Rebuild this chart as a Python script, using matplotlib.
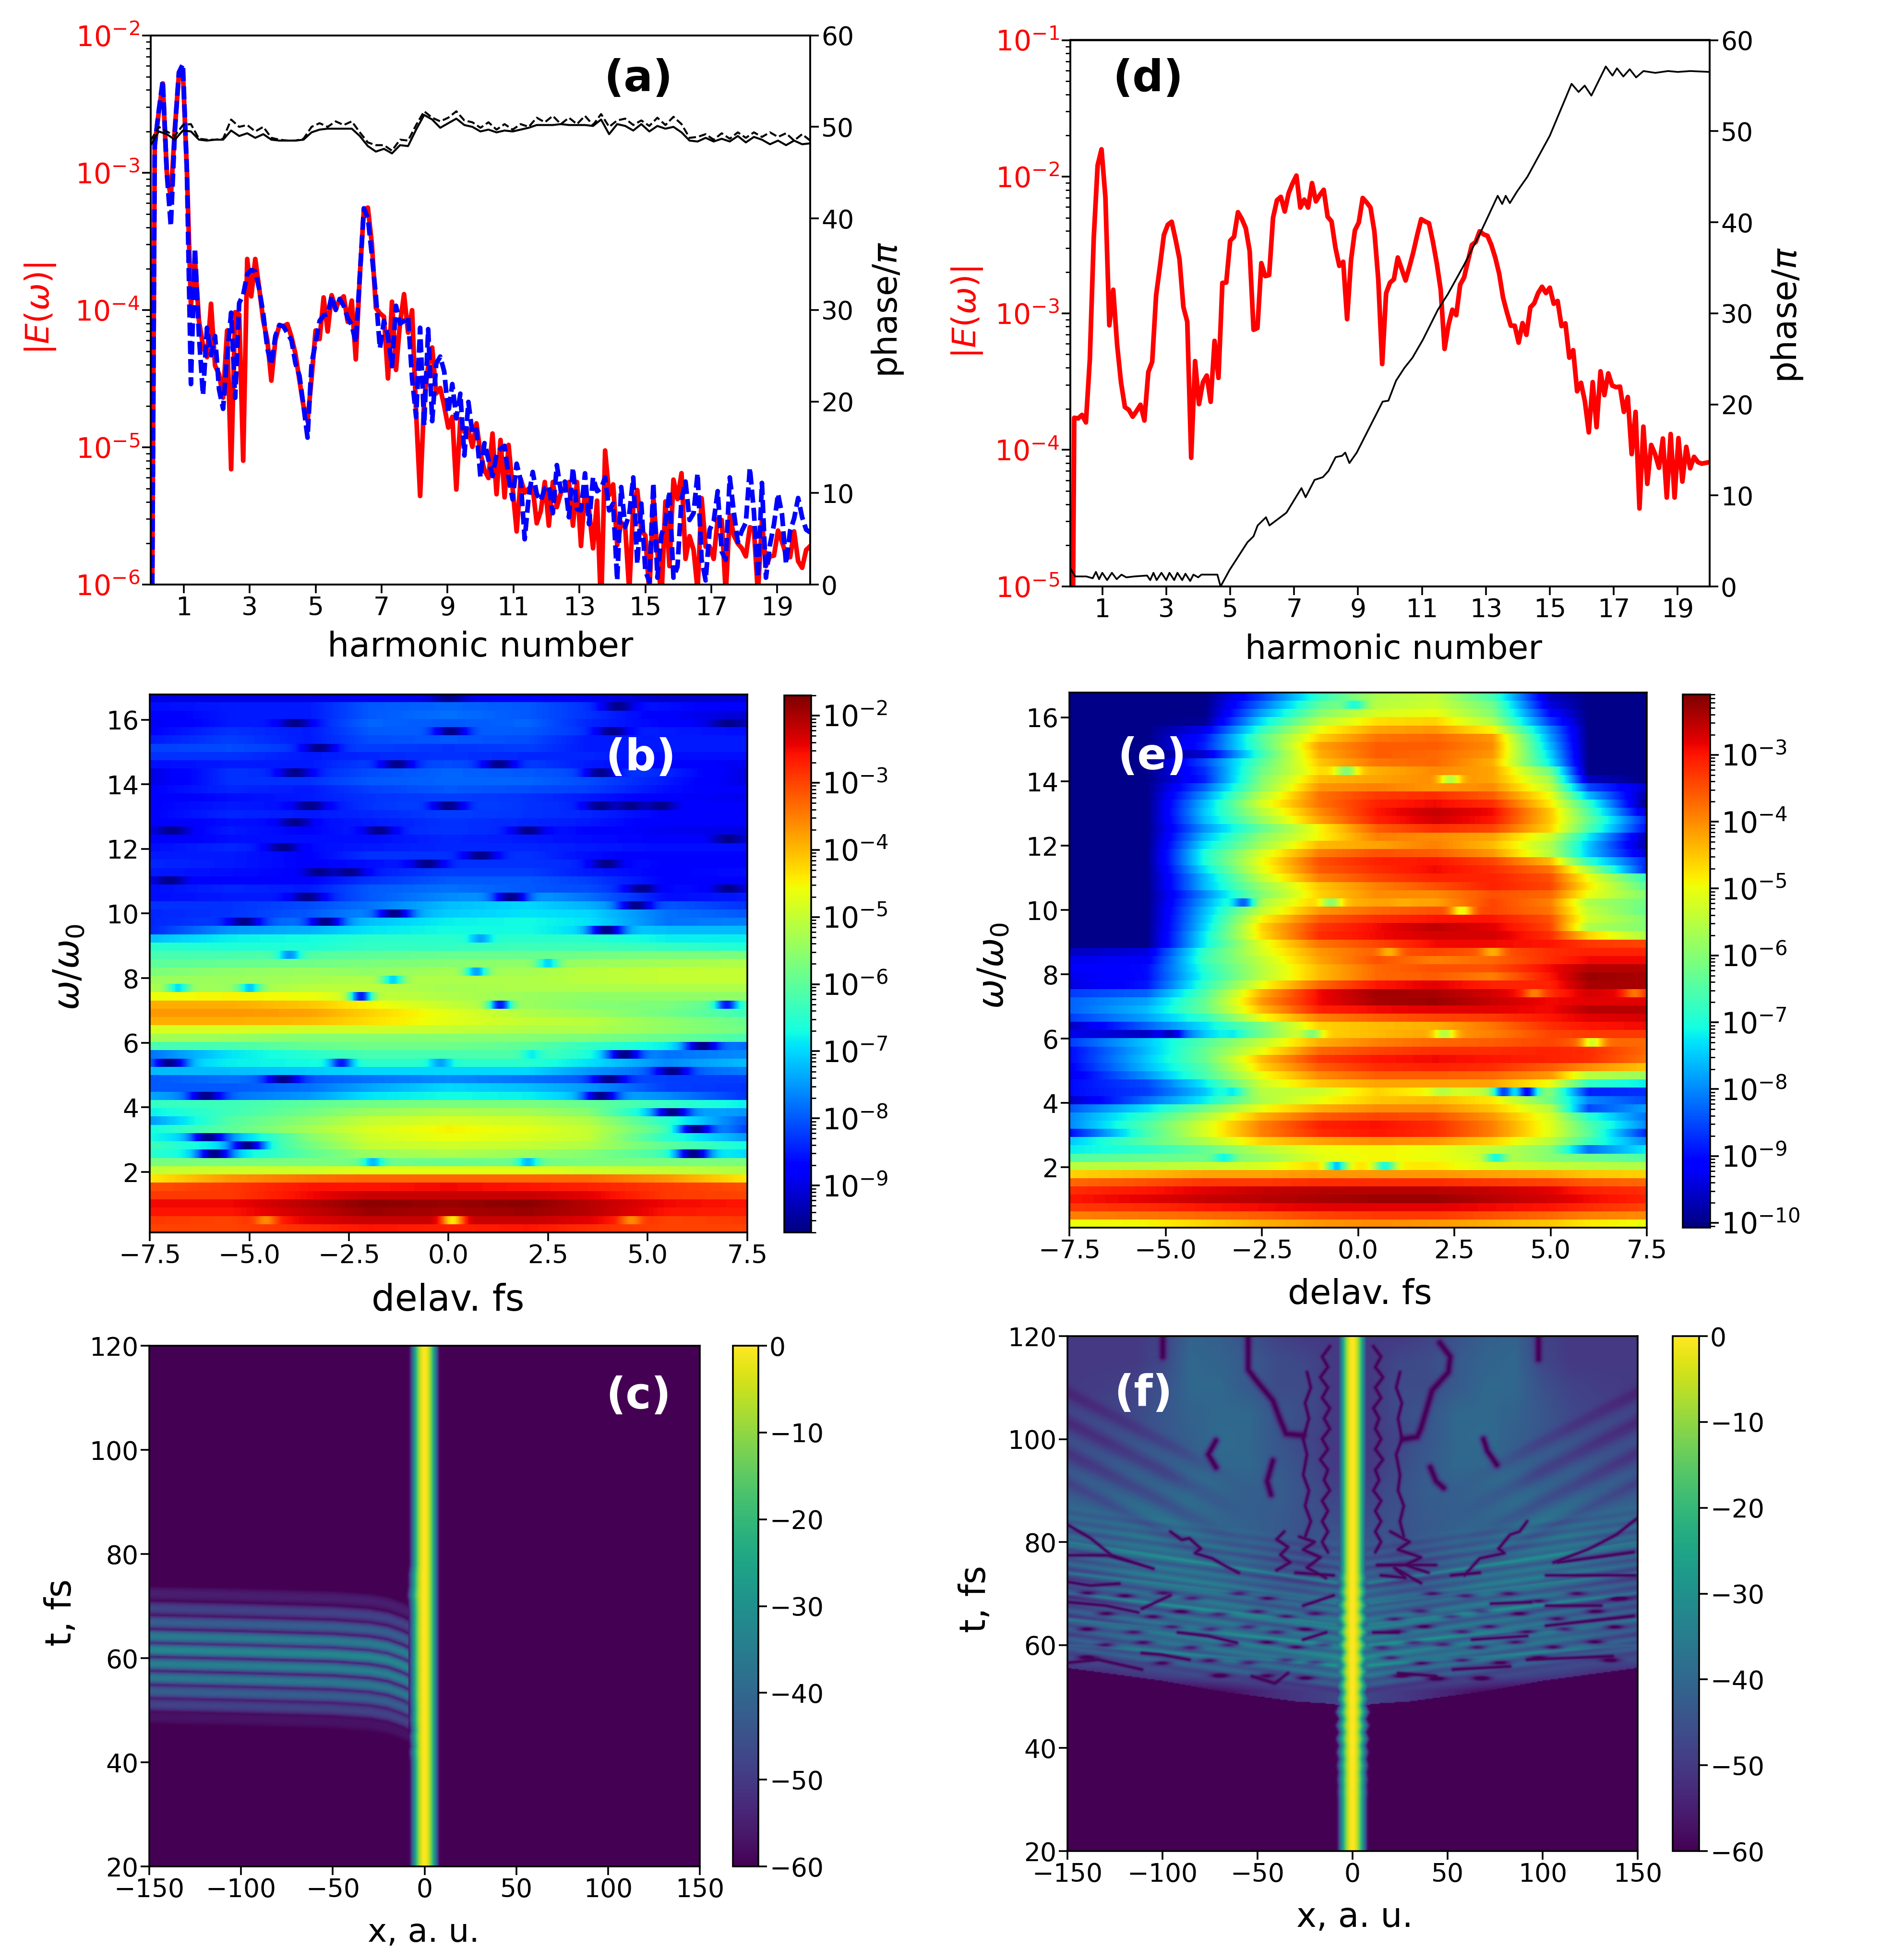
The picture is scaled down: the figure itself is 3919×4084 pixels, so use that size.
import numpy as np
import matplotlib
matplotlib.use('Agg')
import matplotlib.pyplot as plt
from matplotlib.colors import LogNorm

W, H = 3919, 4084

# panel (a): log10 |E| on a 0.122 harmonic grid
a_red = [-8,-2.8,-2.56,-2.35,-3.0,-3.18,-2.68,-2.29,-2.26,-2.99,
 -3.971,-3.629,-4.080,-4.258,-4.344,-3.955,-4.406,-4.468,-4.639,-4.150,-5.160,-4.017,-4.033,-5.098,-3.629,-3.901,-3.629,-3.846,-4.080,-4.220,
 -4.515,-4.220,-4.111,-4.119,-4.103,-4.196,-4.321,-4.515,-4.702,-4.810,-4.499,-4.150,-4.212,-3.909,-4.157,-3.893,-3.986,-3.932,-3.901,-4.087,
 -3.932,-4.360,-3.753,-3.271,-3.255,-3.520,-3.986,-4.025,-4.049,-4.499,-3.940,-4.437,-4.095,-3.885,-4.165,-4.002,-4.748,-5.355,-4.655,-4.406,
 -4.274,-4.608,-4.569,-4.702,-4.857,-4.779,-5.308,-4.795,-4.888,-4.873,-4.997,-4.826,-5.044,-5.168,
 -5.224,-4.900,-5.342,-4.947,-5.365,-4.983,-5.301,-5.613,-5.230,-5.330,-5.301,-5.295,-5.554,-5.465,-5.253,-5.571,-5.253,-5.436,-5.330,-5.295,
 -5.253,-5.571,-5.253,-5.719,-5.312,-5.454,-5.736,-5.389,-6.184,-5.024,-5.348,-5.271,-5.713,-5.548,-5.583,-6.05,-5.430,-5.312,-5.607,-5.642,
 -6.066,-5.359,-5.760,-6.113,-5.395,-5.866,-5.236,-5.377,-5.189,-5.813,-5.648,-5.748,-6.042,-5.371,-5.724,-5.724,-5.813,-5.524,-5.530,-6.066,
 -5.495,-5.642,-5.701,-5.736,-5.795,-5.583,-5.595,-6.066,-5.536,-5.866,-5.795,-5.789,-5.607,-5.689,-5.783,-5.801,-5.613,-5.830,-5.878,-5.748,-5.72]
a_blue = [-8,-2.8,-2.55,-2.33,-3.0,-3.39,-2.7,-2.27,-2.21,-2.99,
 -4.54,-3.55,-4.19,-4.62,-4.13,-4.33,-4.19,-4.58,-4.72,-4.33,-4.02,-4.64,-3.95,-3.89,-3.74,-3.71,-3.72,-3.85,-4.03,-4.28,
 -4.40,-4.19,-4.11,-4.12,-4.17,-4.22,-4.39,-4.48,-4.70,-4.93,-4.39,-4.24,-4.08,-4.04,-4.03,-3.90,-4.0,-3.92,-3.97,-4.06,
 -4.11,-4.24,-3.75,-3.26,-3.33,-3.6,-3.9,-4.28,-4.08,-4.19,-4.41,-3.97,-4.1,-4.08,-4.05,-4.5,-4.78,-4.13,-4.84,-4.14,
 -4.81,-4.39,-4.34,-4.45,-4.75,-4.54,-4.79,-4.61,-5.06,-4.67,-4.9,-4.87,-5.22,-4.97,
 -5.09,-5.21,-5.05,-5.01,-4.99,-5.22,-5.38,-5.12,-5.24,-5.67,-5.36,-5.18,-5.34,-5.39,-5.30,-5.28,-5.48,-5.13,-5.32,-5.25,
 -5.51,-5.15,-5.45,-5.46,-5.19,-5.56,-5.22,-5.32,-5.30,-5.22,-5.46,-5.41,-5.97,-5.29,-5.58,-5.49,-5.22,-5.85,-5.41,-5.90,
 -5.98,-5.26,-5.95,-5.64,-5.55,-5.32,-5.95,-5.87,-5.38,-5.25,-5.53,-5.48,-5.19,-5.82,-5.97,-5.60,-5.54,-5.32,-5.76,-5.82,
 -5.22,-5.47,-5.69,-5.61,-5.55,-5.15,-5.47,-5.95,-5.26,-5.95,-5.71,-5.56,-5.34,-5.49,-5.85,-5.61,-5.52,-5.37,-5.51,-5.60,-5.62]
a_phase = [48,49.5,49.2,48.6,49.6,49.5,48.6,48.5,48.6,48.6,49.6,49,49.3,48.8,49.2,48.6,48.5,48.5,48.5,48.6,49.4,49.7,49.8,49.8,49.8,49.8,49,47.9,47.3,47.6,47.1,48,47.9,49.7,51.3,50.8,49.9,50.4,50.9,50.2,50,49.5,49.7,49.4,49.6,49.5,49.7,49.9,50.2,50.2,50.2,50.3,50.2,50.2,50.2,50.1,50.8,49.2,50.3,50.1,49.6,50.3,49.5,50.1,49.8,50,49.4,48.5,48.4,48.8,48.4,48.7,48.4,49,48.3,48.9,48.6,48.1,48.5,48,48.5,48.1,48.2]
a_phase2 = [48.5,50,49.5,49,50.2,50.3,48.7,48.6,48.6,48.7,50.8,50,50.2,49.5,50,48.8,48.6,48.5,48.5,48.7,50,50.4,50,50.6,50.2,50.6,49.4,48.3,48,48,47.4,48.6,48.5,50.2,51.7,51,50.6,51,51.7,50.7,50.5,49.9,50.5,49.7,50.3,49.7,50.3,50,51,50.5,51.2,50.3,51,50.3,51.2,50.2,51.4,50,50.7,50.9,50.2,50.7,50.1,51,50.2,51.1,50.3,48.8,48.9,49.2,48.6,49.3,48.7,49.4,48.8,49.4,48.9,49.4,48.9,49.3,48.5,49.2,48.5]

# panel (d)
d_red = [-8,-3.765,-3.770,-3.744,-3.799,-3.339,-2.452,-1.917,-1.800,-2.151,-3.088,-2.828,-3.230,-3.506,-3.687,-3.707,-3.757,-3.715,-3.670,-3.785,-3.431,-3.355,-2.870,-2.653,-2.427,-2.352,-2.330,-2.460,-2.603,-2.954,-3.063,-4.058,-3.350,-3.665,-3.506,-3.456,-3.648,-3.202,-3.473,-2.778,-2.775,-2.469,-2.440,-2.260,-2.310,-2.377,-2.544,-3.121,-3.108,-2.633,-2.728,-2.720,-2.301,-2.173,-2.148,-2.255,-2.121,-2.050,-1.992,-2.226,-2.168,-2.226,-2.047,-2.181,-2.134,-2.096,-2.293,-2.327,-2.519,-2.653,-2.623,-3.043,-2.611,-2.393,-2.335,-2.156,-2.188,-2.226,-2.402,-2.753,-3.372,-2.854,
 -2.776,-2.751,-2.592,-2.676,-2.760,-2.659,-2.550,-2.425,-2.311,-2.328,-2.341,-2.475,-2.634,-2.826,-3.261,-3.086,-2.974,-3.014,-2.790,-2.739,-2.617,-2.500,-2.478,-2.400,-2.422,-2.433,-2.500,-2.592,-2.709,-2.885,-2.994,-3.091,-3.091,-3.215,-3.072,-3.158,-2.957,-2.927,-2.852,-2.806,-2.852,-2.813,-2.930,-2.910,-3.094,-3.074,-3.325,-3.270,-3.571,-3.509,-3.646,-3.872,-3.504,-3.834,-3.425,-3.599,-3.440,-3.529,-3.541,-3.537,-3.722,-3.613,-4.031,-3.722,-4.429,-3.830,-4.249,-3.964,-4.031,-4.131,-3.917,-4.349,-3.884,-4.349,-3.914,-4.232,-3.978,-4.135,-4.051,-4.090,-4.101,-4.095,-4.09]
d_phase_h = [0,.15,.5,.7,.8,.9,1,1.15,1.3,1.45,1.6,1.75,2,2.4,2.5,2.6,2.7,2.85,3,3.1,3.25,3.35,3.5,3.6,3.75,3.85,4,4.1,4.6,4.7,4.98,5.54,5.73,5.86,6.12,6.23,6.76,7.23,7.36,7.64,7.9,8.08,8.3,8.5,8.6,8.73,8.96,9.77,9.95,10.19,10.45,10.7,11.03,11.5,11.81,12.33,12.85,13.37,13.51,13.62,13.75,13.98,14.3,15,15.68,15.9,16.09,16.3,16.75,16.96,17.1,17.3,17.5,17.7,17.93,18.3,18.7,19,19.4,20]
d_phase = [2,1.1,1.1,.9,1.6,.8,1.5,.7,1.5,.8,1.3,1,1.1,1.2,.7,1.5,.7,1.5,.7,1.5,.7,1.5,.7,1.4,.6,1.3,1,1.3,1.3,0,1.8,4.85,5.5,6.7,7.6,6.7,8.1,10.8,9.8,11.7,12,12.7,14.2,14.35,14.7,13.55,14.7,20.3,20.4,22.6,24,25.1,27.1,30.4,32.1,35.4,39,42.9,42,42.9,42.1,43.4,45,49.5,55.2,54.3,55,53.9,57.1,56.1,56.9,56,56.8,55.9,56.6,56.4,56.6,56.5,56.6,56.5]

# panels (b), (e): log10 spectrum, rows from low to high omega
b_t = [-7.5,-5.5,-3.5,-2,0,2,3.5,5.5,7.5]
b_rows = [
[-3.0,-3.0,-2.8,-2.6,-2.7,-2.6,-2.8,-3.0,-3.0],[-2.9,-3.0,-2.4,-2.2,-2.2,-2.2,-2.4,-3.0,-2.9],[-2.6,-2.6,-2.2,-1.9,-2.0,-1.9,-2.1,-2.6,-2.7],
[-2.5,-2.5,-2.1,-1.8,-1.9,-1.8,-2.1,-2.5,-2.6],[-2.9,-2.9,-2.5,-2.2,-2.2,-2.2,-2.4,-2.9,-3],[-3.1,-2.9,-2.6,-2.6,-2.5,-2.6,-2.7,-2.9,-3.1],
[-4.4,-3.7,-3.4,-3.3,-3.3,-3.3,-3.3,-3.7,-4.4],[-5.0,-4.9,-4.9,-4.7,-4.7,-4.7,-4.9,-5,-5.2],[-5.7,-5.7,-5.7,-5.8,-5.9,-5.8,-5.7,-5.7,-5.7],
[-6.5,-7,-6,-5.4,-5.2,-5.4,-5.6,-6.3,-7],[-6.3,-7,-5.8,-5,-4.9,-5,-5.2,-6,-6.7],[-6.7,-7.4,-5.6,-4.9,-4.6,-4.8,-5,-6.5,-7.5],
[-6.7,-6,-5.3,-4.8,-4.5,-4.7,-5,-6.2,-8.2],[-7.5,-6.1,-5.5,-5,-4.8,-4.9,-5.2,-6.5,-8],[-6.8,-6.3,-5.8,-5.4,-5.2,-5.3,-5.6,-7.3,-7.5],
[-6.4,-6.3,-6,-5.8,-5.7,-5.7,-5.9,-6.4,-6.8],[-7.4,-7.8,-7.5,-6.9,-6.7,-6.8,-7.2,-7.6,-8.3],[-8,-8,-7.8,-7.4,-7,-7.2,-7.5,-8.2,-8.3],
[-8,-7.8,-8,-7.8,-7.6,-7.8,-8,-8.2,-8.2],[-7.2,-7.2,-7.1,-7,-7,-7,-7.5,-8,-7.7],[-7.3,-6.8,-6.7,-6.5,-6.5,-6.5,-6.9,-7.6,-7.2],
[-7.8,-6.9,-6.5,-6.2,-6.2,-6.1,-6.6,-7.8,-7.6],[-6.2,-6.2,-5.9,-5.8,-5.8,-6.0,-6.4,-6.8,-7.9],[-5.3,-5.4,-5.6,-5.6,-5.6,-5.6,-5.7,-5.9,-6.2],
[-4.8,-4.8,-4.9,-4.9,-5,-5.2,-5.2,-5.5,-5.8],[-3.9,-3.9,-4.0,-4.3,-4.7,-5,-5.1,-5.5,-5.9],[-3.7,-3.7,-3.8,-4.2,-4.7,-5.2,-5.4,-5.8,-6.3],
[-3.9,-3.9,-4.1,-4.5,-5,-5.4,-5.6,-5.7,-6.2],[-4.6,-4.5,-4.6,-5,-5.2,-5.4,-5.5,-5.5,-5.5],[-5.2,-5.4,-5.1,-5.1,-5.3,-5.2,-5.2,-5.2,-5.2],
[-5.4,-5.4,-5.3,-5.2,-5.2,-5.2,-5.1,-5,-5],[-5.7,-5.5,-5.4,-5.5,-5.3,-5.3,-5.1,-5,-5],[-6,-5.9,-5.8,-5.7,-5.6,-5.5,-5.4,-5.3,-5.2],
[-6.2,-6.2,-6.1,-6,-5.9,-5.9,-5.8,-5.7,-5.7],[-6.5,-6.6,-6.6,-6.4,-6.4,-6.3,-6.3,-6.4,-6.6],[-7.2,-6.8,-6.7,-6.5,-6.5,-6.5,-6.5,-6.8,-6.8],
[-8.4,-7.5,-7.3,-6.9,-6.7,-6.7,-7.0,-7.2,-7.2],[-8.4,-8.2,-7.7,-7.2,-6.8,-6.7,-6.9,-7.8,-7.7],[-8.4,-8.3,-8,-7.6,-7.1,-6.9,-7,-7.8,-8],
[-8.3,-8.3,-8.1,-7.8,-7.2,-7,-7.3,-8,-8.3],[-8.6,-8.5,-8.5,-8,-7.6,-7.4,-7.8,-8.6,-8.5],[-8.6,-8.4,-8.5,-8,-7.8,-8,-8.1,-8.6,-8.7],
[-8.7,-8.7,-8.7,-8.3,-8,-8,-8.2,-8.7,-8.7],[-8.5,-8.6,-8.7,-8.5,-8.2,-8.2,-8.5,-8.7,-8.6],[-8.4,-8.5,-8.7,-8.6,-8.3,-8.3,-8.4,-8.7,-8.7],
[-8.5,-8.5,-8.7,-8.3,-8.3,-8.3,-8.6,-8.8,-8.7],[-8.6,-8.4,-8.6,-8.5,-8.4,-8.4,-8.5,-8.6,-8.6],[-8.8,-8.6,-8.6,-8.6,-8.4,-8.5,-8.6,-8.7,-8.8],
[-8.9,-8.5,-8.7,-8.4,-8.3,-8.4,-8.7,-8.9,-9],[-8.8,-8.6,-8.6,-8.5,-8.3,-8.4,-8.5,-8.8,-8.7],[-8.7,-8.4,-8.5,-8.4,-8.2,-8.3,-8.4,-8.7,-8.7],
[-8.7,-8.5,-8.6,-8.3,-8.1,-8.3,-8.4,-8.7,-8.8],[-8.8,-8.6,-8.5,-8.3,-8.2,-8.3,-8.5,-8.8,-8.9],[-8.7,-8.4,-8.5,-8.2,-8,-8.1,-8.2,-8.6,-8.8],
[-9,-8.3,-8.3,-8,-7.9,-7.9,-8.1,-8.5,-9],[-9,-8.3,-8.4,-8.1,-7.9,-8,-8.1,-8.4,-9],[-8.6,-8.5,-8.5,-8.2,-8.1,-8.2,-8.5,-8.7,-8.9],
[-8.3,-8.3,-8.5,-8.4,-8.3,-8.4,-8.4,-8.6,-8.6],[-8.2,-8.1,-8.3,-8.2,-8.3,-8.2,-8.5,-8.5,-8.5],[-8.5,-8.2,-8.5,-8.1,-8,-8.1,-8.5,-8.5,-8.5],
[-8.7,-8.3,-8.5,-8,-7.9,-8,-8.3,-8.5,-8.6],[-8.9,-8.5,-8.5,-7.9,-8,-7.9,-8.4,-8.7,-9.1],[-8.8,-8.5,-8.5,-8,-7.8,-8,-8.3,-8.8,-9.1],
[-8.6,-8.5,-8.5,-8,-7.9,-8,-8.3,-8.6,-8.8],[-9,-9,-9,-8.9,-9,-8.8,-8.9,-9.2,-9.1]]
# narrow minima: delay, omega, log10 level
b_spots = [(-6.8,7.6,-6.9),(-5,7.6,-7.1),(-2.2,7.4,-8.5),(-1.4,7.86,-7),(.7,8.1,-7.4),(2.5,8.35,-7),(1.3,7.15,-8.5),(7,7.15,-8.5),(-2.7,5.4,-8.5),(-.2,5.4,-7.4),(2.1,5.65,-6.8),(-4,8.62,-7.5),(.8,9.1,-7.4),(-1.9,2.2,-7.2),(2,2.2,-7.2),(-4.6,.5,-3.6),(4.6,.5,-3.6),(.1,.5,-4.4)]
# broader dark blobs
b_dark_t = [-3.86,.06,-3.25,-1.3,1.27,-3.86,-3.48,0,4.58,3.83,5.33,-3.86,-1.75,2.02,-6.94,-4.16,.81,-.54,-3.25,-2.5,-7.02,4.88,1.57,-3.55,4.73,-1.37,-5.14,-3.1,3.98,4.28,0,4.13,3.83,3.98,7.06,7.06,7.06,-6.1,-5.06,-6.04,-5.89,6.16,5.63,6.23,4.43,6.39,5.63,4.05,-4.16,3.83,-7.02]
b_dark_w = [15.81,15.68,15.2,14.72,14.72,14.43,13.44,13.44,13.44,13.44,13.44,12.74,12.68,12.68,12.55,12.1,11.72,11.53,11.2,11.2,10.95,10.82,10.63,10.4,10.16,9.93,9.67,9.67,9.39,16.45,16.7,15.75,14.4,11.46,12.42,10.7,16,4.37,2.83,3.09,2.58,2.58,3.85,3.34,5.58,5.84,5.09,4.84,4.84,4.37,5.36]

e_t = [-7.5,-5.5,-4,-2.5,-1,.5,2,3.5,5,6,7.5]
e_rows = [
[-5,-4.9,-4.6,-4.3,-4.1,-4,-4.1,-4.3,-4.5,-4.8,-5],[-3.9,-3.8,-3.7,-3.6,-3.4,-3.3,-3.3,-3.5,-3.7,-3.9,-4],[-3.3,-3.2,-3,-2.9,-2.8,-2.8,-2.8,-2.9,-3,-3.2,-3.4],
[-3,-2.8,-2.6,-2.5,-2.4,-2.3,-2.3,-2.5,-2.7,-2.9,-3.1],[-3.2,-3,-2.8,-2.6,-2.5,-2.5,-2.5,-2.6,-2.8,-3.1,-3.2],[-3.7,-3.5,-3.3,-3.3,-3.2,-3.2,-3.2,-3.3,-3.4,-3.6,-3.7],
[-4.6,-4.4,-4.2,-4.2,-4.1,-4.1,-4.1,-4.2,-4.3,-4.5,-4.6],[-5.5,-5.5,-5.4,-5.2,-4.6,-4.8,-4.8,-5.2,-5.4,-5.5,-5.6],[-6.5,-6.3,-6.2,-5.8,-5.1,-4.9,-5,-5.3,-6,-6.2,-6.5],
[-7.2,-6.9,-6.3,-5.5,-5,-4.9,-5,-5.4,-6,-8.2,-7.2],[-7.5,-6.4,-5.6,-4.6,-4.2,-4,-4.1,-4.6,-5.5,-6.7,-8],[-9,-6.6,-5.2,-3.9,-3.2,-3,-3.2,-3.9,-5.1,-6.4,-8.8],
[-8,-6.5,-5.2,-3.9,-3.1,-2.95,-3.2,-3.9,-5.1,-6.5,-8],[-8,-6.8,-5.6,-4.3,-3.6,-3.4,-3.5,-4.1,-5.2,-6.9,-8.2],[-8.4,-7.3,-6.2,-5,-4.3,-4,-4,-4.5,-5.5,-8.5,-7.8],
[-9.6,-8.2,-7.2,-5.6,-5,-4.5,-4.4,-4.8,-6.2,-8,-8.5],[-9,-8.6,-7.5,-5.5,-5.3,-4.6,-5,-5.5,-6,-8.8,-8.7],[-9,-8.5,-7.2,-5.3,-4.5,-4.2,-4.2,-4.2,-5,-6.8,-7.2],
[-9.3,-7.9,-6.6,-5,-4,-3.6,-3.6,-3.7,-4.1,-5.5,-5.8],[-9.1,-7.6,-6.5,-4.6,-3.6,-3.2,-3.1,-3.2,-3.6,-4,-4.5],[-9,-7.5,-6.3,-4.4,-3.3,-3,-2.9,-3,-3.1,-3.2,-3.8],
[-9,-7.6,-6.3,-5,-3.7,-3.4,-3.2,-3.2,-3.1,-3.2,-3.7],[-8.6,-7.5,-6.5,-5.4,-4.3,-3.9,-3.7,-3.6,-3.4,-3.7,-3.7],[-9.3,-9.6,-7.5,-6.2,-4.6,-4.4,-4.2,-3.9,-3.4,-3.3,-3.3],
[-9.6,-8.3,-7.3,-6.1,-4.6,-4.4,-4.3,-3.8,-3.2,-3,-2.9],[-8.6,-7.8,-6.8,-5,-3.9,-3.6,-3.4,-3.3,-3,-2.8,-2.7],[-8.3,-7.6,-6.3,-4.4,-3.1,-2.9,-2.8,-2.8,-2.9,-2.5,-2.5],
[-8.3,-7.8,-6.3,-4.1,-2.9,-2.4,-2.3,-2.6,-2.9,-2.8,-2.8],[-8.6,-8.3,-6.5,-4.3,-2.9,-2.35,-2.4,-2.7,-3.2,-2.7,-3],[-9.4,-8.9,-6.8,-5,-3.7,-3,-2.8,-3.1,-3.1,-2.4,-2.4],
[-9.3,-9,-7,-5.5,-4.4,-3.7,-3.6,-3.9,-3,-2.3,-2.4],[-9.2,-9,-6.9,-5.5,-4.4,-3.7,-3.5,-3.5,-2.9,-2.5,-2.5],[-9.3,-9.2,-6.7,-5.4,-4.2,-3.5,-3.9,-3.7,-3.2,-2.9,-2.9],
[-9.6,-9.4,-6.8,-5.2,-4.1,-3.6,-3.4,-3.6,-3.2,-3.1,-3.1],[-10,-10,-7.2,-5.1,-3.8,-3.4,-2.9,-2.9,-3,-3.3,-3.4],[-10,-10,-7.2,-4.7,-3.2,-2.9,-2.7,-2.7,-3.2,-4.6,-5.6],
[-10,-10,-7.4,-4.6,-3.3,-2.9,-2.55,-2.8,-3.4,-5.6,-6],[-10,-10,-7.5,-4.9,-3.6,-3.2,-3,-3,-3.5,-5.3,-6],[-10,-10,-7.6,-5.4,-4.1,-3.7,-3.5,-3.4,-3.8,-5.4,-6.3],
[-10,-10,-7.8,-5.6,-4.5,-4.2,-4.2,-3.4,-3.9,-5.6,-6.2],[-10,-10,-8,-6,-4.6,-4,-4,-3.5,-3.7,-5,-6],[-10,-10,-7.6,-5.8,-4.5,-3.9,-3.5,-3.1,-3.4,-4.8,-6.4],
[-10,-10,-7.6,-5.4,-3.9,-3.4,-3.1,-3.1,-3.5,-5,-6.8],[-10,-10,-7.3,-5.1,-3.6,-3.2,-2.9,-3.2,-3.8,-5.6,-8.8],[-10,-10,-7,-5,-3.5,-3.1,-3,-3.4,-4.4,-6.8,-8.8],
[-10,-10,-7,-5.2,-3.9,-3.5,-3.6,-4.1,-5.5,-7.5,-9.5],[-10,-10,-7.3,-5.7,-4.4,-4.2,-3.9,-4.4,-5.6,-7.5,-9.8],[-10,-10,-7.6,-5.9,-4.9,-3.9,-4,-4.2,-5.3,-7.2,-9.7],
[-10,-10,-7.9,-6.3,-4.9,-3.6,-3.2,-3.4,-4.6,-6.5,-9],[-10,-10,-7.6,-5.8,-4.2,-3.1,-2.7,-3,-4.5,-6.3,-8.8],[-10,-10,-7.5,-5.5,-4,-3,-2.6,-2.9,-4.5,-6.5,-9.5],
[-10,-10,-7.6,-5.2,-3.8,-3.1,-2.9,-3.2,-4.8,-6.8,-10],[-10,-10,-7.9,-5.5,-3.8,-3.3,-3.2,-3.6,-5,-7.6,-9.8],[-10,-10,-8.3,-5.9,-4.1,-3.9,-4.1,-4,-5.4,-8.5,-9.5],
[-10,-10,-8.8,-6,-4.4,-4.2,-4,-4.2,-5.7,-9.6,-10],[-10,-10,-8.7,-6.2,-4.7,-4.3,-4,-4.2,-6.2,-10,-10],[-10,-10,-8.5,-6.4,-4.5,-3.8,-3.7,-4.3,-7.2,-10,-10],
[-10,-10,-9.5,-6.7,-4.3,-3.6,-3.7,-4.1,-7.4,-10,-10],[-10,-10,-8.8,-6.5,-4.2,-3.6,-3.6,-4,-7.6,-10,-10],[-10,-10,-8.9,-6.4,-4.6,-3.8,-3.7,-4.1,-7.8,-10,-10],
[-10,-10,-9.3,-6.8,-5,-4.2,-4.1,-4.9,-8,-10,-10],[-10,-10,-9.9,-7.3,-5.5,-4.7,-4.6,-5.6,-8.6,-10,-10],[-10,-10,-10,-7.8,-6,-5.2,-5,-6,-9,-10,-10],
[-10,-10,-10,-8.2,-6.4,-5.5,-5.3,-6.2,-9.4,-10,-10],[-10,-10,-10,-8.6,-6.8,-5.6,-5.4,-6.6,-9.6,-10,-10]]
e_spots = [(-3.5,2.35,-7.1),(-.55,2.1,-7.5),(.7,2.1,-7),(3.6,2.35,-7),(-3.3,6.1,-7.2),(-1.2,6.1,-6),(2.25,6.1,-5.5),(.8,6.4,-4.2),(-3.3,4.3,-7.2),(3.8,4.3,-8.5),(4.4,4.3,-9),(.3,4.3,-4.6),(2.2,4.3,-5.5),(.8,8.6,-4.3),(3.5,8.6,-4.3),(2.4,14,-5.5),(-.3,14.4,-6),(2.7,10.1,-5),(-3,10.3,-8.3),(-.7,10.3,-5.9),(1.2,10.3,-4.3),(6.1,5.9,-5.2),(4.6,7.3,-3.9),(7.2,7.3,-3.8),(-.1,16.5,-7),(-4.9,6.1,-9.6)]

# panel (c), (f): density in the x, t plane
core_x = [0,1,2,3,4,5,6,7,8,9]
core_val = [0,-1,-4,-9,-16,-25,-35,-46,-58,-60]
c_stripe_t = [72.4,69.6,66.9,64.2,61.6,58.9,56.2,53.6,51.1,48.7]
c_stripe_val = [-55,-48,-42,-35,-32,-34,-36,-42,-48,-57]
c_drop_x = [-150,-100,-50,-30,-20,-12,-9]
c_drop_t = [0,-.4,-.9,-1.4,-2,-3,-3.5]
c_wig_t = [40,42,43,45,46,48,50,53,56,59,62,65,68,71,72,74,76,78]
c_wig = [1,1.07,1,1.08,1,1.08,1.05,1.1,1.08,1.1,1.08,1.1,1.08,1.12,1.2,1.1,1.12,1.02]

f_abs_x = [10,25,40,55,70,85,100,115,130,150]
f_t = [51,54,57,60,65,70,75,80,85,90,95,100,105,110,115,120]
f_level = [
[-48,-50,-52,-55,-58,-60,-60,-60,-60,-60],
[-38,-42,-44,-44,-45,-47,-49,-51,-54,-56],
[-34,-36,-38,-38,-39,-40,-41,-43,-45,-46],
[-35,-36,-37,-37,-37,-38,-38,-39,-42,-44],
[-38,-38,-38,-37,-37,-38,-39,-40,-42,-44],
[-40,-42,-42,-40,-38,-38,-39,-41,-43,-46],
[-42,-45,-43,-40,-38,-37,-37,-38,-41,-44],
[-44,-45,-43,-41,-40,-38,-37,-37,-39,-40],
[-46,-45,-43,-42,-41,-40,-39,-39,-40,-40],
[-48,-45,-42,-42,-41,-40,-42,-42,-43,-43],
[-50,-46,-43,-40,-40,-42,-44,-44,-45,-46],
[-50,-47,-44,-40,-39,-42,-44,-46,-47,-47],
[-50,-46,-44,-40,-40,-41,-44,-47,-48,-49],
[-50,-46,-46,-43,-40,-40,-45,-48,-49,-50],
[-50,-47,-46,-43,-41,-40,-47,-50,-50,-50],
[-50,-50,-48,-45,-42,-41,-48,-50,-50,-50]]
f_edge_x = [0,10,30,50,70,100,130,150]
f_edge_t = [47.5,48.5,49,50,51,53,54.5,55.5]
f_wig_t = [30,31.3,32.6,33.9,35.2,36.5,37.8,39.1,40.4,41.7,43,44.3,45.6,46.9,48.2,49.5,50.8,52.1,53.4,54.7,56,57.3,58.6,59.9,61.2,62.5,63.8,65.1,66.4,67.7,69,70.3,71.6,72.9,74.2]
f_wig = [1,1.03,1,1.05,.98,1.08,.97,1.1,.96,1.14,.95,1.16,.95,1.18,.96,1.18,.95,1.22,.95,1.24,.96,1.28,.95,1.3,.96,1.3,.96,1.28,.96,1.24,.97,1.2,.98,1.12,1]
# streak pattern running outward
f_low_band = [0,-4,2,-5,3,-6,2,-3,4,-7,3,-4,2,-8,4,-3,3,-6,2,-5,4,-4,2,-7,3,-3,1,-6,2,-4,1,-3,1,0]
f_high_band = [0,-1,-3,-5,-2,1,1,-1,-4,-5,-2,1,1,-1,-4,-5,-2,1,1,-1,-4,-4,-1,0,0]

f_thick = [([-55,-55,-51,-42,-38,-35,-26],[120,113.5,111.5,107.5,103.6,101,100.7]),
 ([46,51.5,50.5,42,36,34,27],[118.7,116,113,109.5,102,100.4,100]),
 ([-100,-100],[120,116]),([98,98],[120,115.5]),
 ([-72,-76,-72],[99.7,97,94.5]),([69,71,76],[100,97.7,95]),
 ([-42,-45,-43],[95.8,91.8,89.2]),([41,44,48],[94.5,91.8,90.5])]
f_thin = [([-12,-16,-13,-17,-13,-16,-12,-15,-12,-16,-13,-17,-13,-15,-12,-16,-13,-16,-13,-16,-13],[118,116,114,112,110,108,106,104,102,100,98,96,94,92,90,88,86,84,82,80,78]),
 ([11,15,12,16,12,15,11,14,12,15,12,16,12,14,11,15,12,15,12,15,12],[118,116,114,112,110,108,106,104,102,100,98,96,94,92,90,88,86,84,82,80,78]),
 ([-24,-22,-25,-23,-26,-24,-26,-23,-25,-22,-25],[113,110,107,104,100,97,93,90,87,84,81]),
 ([25,23,26,24,26,23,25,24,27,25,27],[113,110,107,104,100,97,93,90,87,84,81]),
 ([-36,-40,-34,-38,-33,-40],[82,80.5,79,77.5,76,74.5]),([-28,-20,-26,-17,-24,-14],[81,80,78.5,77,75,73]),
 ([20,30,24,36,28,40],[82,80,78.5,77,75.5,74]),([15,28,22,36],[73.5,73,75,72]),
 ([-96,-90,-86,-80,-83,-74,-68,-60],[82,80.4,80.7,78.7,77.8,76.8,75.5,74]),([92,88,83,77,80,67,59],[84,82,81.4,78.7,77.8,76.8,73.5]),
 ([-150,-138,-127,-105],[83.3,80.7,77.4,74.8]),([150,139,125,106],[84.6,81.4,78.7,76]),
 ([-150,-129,-105],[77.4,77.4,74.8]),([-150,-138,-123],[72.2,71.5,71.9]),([-111,-96],[67,69.6]),([-150,-130,-113],[68.3,67.6,66.3]),
 ([-111,-101,-86],[58.4,58.1,57.1]),([-150,-134,-111],[56.5,57.1,55.2]),([-92,-76,-61],[62.4,61.7,60.4]),([-53,-41,-34],[53.9,52.5,54.5]),
 ([-26,-10],[67.6,69.6]),([-26,-14],[61,62.4]),([-30,-10],[74,73.5]),
 ([11,24],[62.4,62.4]),([13,44],[75.5,75.5]),([52,67],[73.5,74]),([73,94],[68,68.3]),([102,131],[67.6,67.6]),([108,148],[76,78]),
 ([102,149],[73.5,73.5]),([63,92],[61,61.7]),([102,148],[63.7,65.6]),([53,83],[55.2,55.8]),([92,137],[57.1,57.8]),([24,44],[54.5,53.9])]
f_bright_in = [56,60,64,68,72]
f_bright_out = [60,65,70,74,80]
f_blob_x = [-140,-120,-100,-85,-60,-45,-130,-105,-90,-70,-50,-35,-20,-140,-115,-95,-75,-55,-40,-25,-130,-110,-85,-65,-45,-30,-15,-140,-100,-75,-55,-35,-20,-45,-25,-70,
 140,118,98,82,60,42,128,108,88,68,52,36,22,138,112,92,72,58,38,24,128,106,86,66,48,32,15,136,98,78,58,36,20,44,26,68]
f_blob_t = [70,69.5,70,69,70,69,66,65.5,66.5,66,66.5,65.5,66,63,62.5,63.5,63,63.5,62.5,63,60,60.5,59.5,60,60.5,59.5,60,57.5,56.5,57,56.5,57,56.5,54,53.5,54,
 69,70,68.5,70,69.5,70,66.5,65,66,66.5,65.5,66.5,65,63.5,63,62.5,63.5,62.5,63.5,62.5,60.5,59.5,60.5,59.5,60,60.5,59.5,57,57.5,56.5,57,56.5,57.5,53.5,54,53.5]

plt.rcParams['font.size'] = 38.5
plt.rcParams['axes.linewidth'] = 2.6
plt.rcParams['xtick.major.size'] = 13
plt.rcParams['ytick.major.size'] = 13
plt.rcParams['xtick.major.width'] = 2.6
plt.rcParams['ytick.major.width'] = 2.6
plt.rcParams['xtick.minor.size'] = 7.5
plt.rcParams['ytick.minor.size'] = 7.5
plt.rcParams['xtick.minor.width'] = 2
plt.rcParams['ytick.minor.width'] = 2

fig = plt.figure(figsize=(W / 100, H / 100), dpi=100)


def box(x0, y0, x1, y1):
    return fig.add_axes([x0 / W, 1 - y1 / H, (x1 - x0) / W, (y1 - y0) / H])


def label(text, x, y, rot=0, color='k', size=53):
    fig.text(x / W, 1 - y / H, text, rotation=rot, color=color, fontsize=size, ha='center', va='center')


def tag(text, x, y, color):
    fig.text(x / W, 1 - y / H, text, color=color, fontsize=65, fontweight='bold', ha='center', va='center')


def spectrum(rect, ylim, lines, phase):
    ax = box(*rect)
    for y, c, ls in lines:
        ax.plot(np.arange(len(y)) * 20.0 / (len(y) - 1), 10.0 ** np.array(y), color=c, lw=7, ls=ls)
    ax.set_yscale('log')
    ax.set_ylim(*ylim)
    ax.set_xlim(0, 20)
    ax.set_xticks(range(1, 20, 2))
    ax.tick_params(axis='y', which='both', labelcolor='r', labelsize=42)
    ax2 = ax.twinx()
    for h, y, ls, lw in phase:
        ax2.plot(h, y, color='k', ls=ls, lw=lw)
    ax2.set_ylim(0, 60)
    ax2.set_xlim(0, 20)
    return ax


def map_rows(rows, cols, spots, ymin, ymax, tgrid, blob_t=(), blob_w=()):
    rows = np.array(rows, dtype=float)
    Z = np.array([np.interp(tgrid, cols, r) for r in rows])
    dw = (ymax - ymin) / len(rows)
    for t0, w0, lev in spots:
        i = min(int((w0 - ymin) / dw), len(rows) - 1)
        w = np.exp(-((tgrid - t0) / 0.28) ** 2)
        Z[i] = np.minimum(Z[i], Z[i] + (lev - Z[i]) * w)
    for t0, w0 in zip(blob_t, blob_w):
        i = min(int((w0 - ymin) / dw), len(rows) - 1)
        w = np.exp(-((tgrid - t0) / 0.42) ** 2)
        Z[i] = np.minimum(Z[i], Z[i] + (-9.6 - Z[i]) * w)
    return Z


def heat(rect, crect, rows, cols, spots, ymin, ymax, vmin, vmax, cticks, blob_t=(), blob_w=()):
    ax = box(*rect)
    tgrid = np.linspace(-7.5, 7.5, 400)
    Z = map_rows(rows, cols, spots, ymin, ymax, tgrid, blob_t, blob_w)
    im = ax.imshow(10.0 ** Z, origin='lower', aspect='auto', cmap='jet', extent=(-7.5, 7.5, ymin, ymax),
                   norm=LogNorm(vmin=vmin, vmax=vmax), interpolation='nearest')
    ax.set_xticks([-7.5, -5, -2.5, 0, 2.5, 5, 7.5])
    ax.set_yticks(range(2, 17, 2))
    cb = fig.colorbar(im, cax=box(*crect))
    cb.set_ticks(cticks)
    cb.ax.tick_params(which='major', labelsize=43)
    return ax


def dens(rect, crect, Z):
    ax = box(*rect)
    im = ax.imshow(Z, origin='lower', aspect='auto', cmap='viridis', extent=(-150, 150, 20, 120),
                   vmin=-60, vmax=0, interpolation='bilinear')
    ax.set_xticks([-150, -100, -50, 0, 50, 100, 150])
    ax.set_yticks(range(20, 121, 20))
    cb = fig.colorbar(im, cax=box(*crect))
    cb.set_ticks(range(-60, 1, 10))
    return ax


# (a)
hh = np.linspace(0, 20, len(a_phase))
h2 = np.linspace(0, 20, len(a_phase2))
spectrum((314, 73.6, 1688, 1218), (1e-6, 1e-2),
         [(a_red, 'r', '-'), (a_blue, 'b', (0, (2.8, 1.1)))],
         [(hh, a_phase, '-', 3), (h2, a_phase2, '--', 3)])
label('harmonic number', 1001, 1348, size=51.5)
label(r'$|E(\omega)|$', 84, 643, 90, 'r', 49)
label(r'phase/$\pi$', 1850, 645, 90, size=51)
tag('(a)', 1330, 165, 'k')

# (d)
spectrum((2230, 83.5, 3562, 1222), (1e-5, 1e-1),
         [(d_red, 'r', '-')], [(d_phase_h, d_phase, '-', 2.6)])
label('harmonic number', 2903, 1354, size=50)
label(r'$|E(\omega)|$', 2015, 651, 90, 'r', 49)
label(r'phase/$\pi$', 3723, 656, 90, size=51)
tag('(d)', 2392, 165, 'k')

# (b), (e)
heat((312, 1447, 1557, 2568), (1634, 1449, 1690, 2568), b_rows, b_t, b_spots, .13, 16.78, 2e-10, 2e-2,
     [10.0 ** -k for k in range(2, 10)], b_dark_t, b_dark_w)
label('delav. fs', 933, 2710, size=55)
label(r'$\omega/\omega_0$', 144, 2015, 90)
tag('(b)', 1335, 1580, 'w')

heat((2228, 1443, 3431, 2558), (3506, 1447, 3563, 2558), e_rows, e_t, e_spots, .12, 16.77, 8.5e-11, 8e-3,
     [10.0 ** -k for k in range(3, 11)])
label('delav. fs', 2833, 2697, size=52)
label(r'$\omega/\omega_0$', 2070, 2012, 90)
tag('(e)', 2400, 1578, 'w')

# (c), (f) on the same grid
xg = np.linspace(-150, 150, 601)
tg = np.linspace(20, 120, 501)
X, T = np.meshgrid(xg, tg)

Zc = np.interp(np.abs(X) / np.where(X < 0, np.interp(T, c_wig_t, c_wig), 1), core_x, core_val)
Tc = T - np.interp(X, c_drop_x, c_drop_t)
for t0, v0 in zip(c_stripe_t, c_stripe_val):
    s = v0 + (-60 - v0) * ((Tc - t0) / 1.5) ** 2
    s[X > -9] = -60
    Zc = np.maximum(Zc, s)
dens((311, 2804, 1458, 3889), (1527, 2804, 1580, 3889), Zc)
label('x, a. u.', 883, 4027, size=49)
label('t, fs', 128, 3360, 90)
tag('(c)', 1330, 2910, 'w')

lev_t = np.array([np.interp(np.abs(xg), f_abs_x, r) for r in f_level])
Zb = np.array([np.interp(tg, f_t, lev_t[:, j]) for j in range(len(xg))]).T
Ax = np.abs(X)
Zb += np.interp(T - 0.05 * Ax, np.linspace(50, 80, len(f_low_band)), f_low_band)
Zb += np.interp(T - 0.19 * Ax, np.linspace(60, 84, len(f_high_band)), f_high_band) * np.clip((Ax - 55) / 40, 0, 1)


def seg_dist(lines):
    # distance in picture pixels from every cell to the nearest polyline
    px, py = X * 3.96, T * 10.78
    d = np.full(X.shape, 1e9)
    for xs, ts in lines:
        for i in range(len(xs) - 1):
            ax0, ay0 = xs[i] * 3.96, ts[i] * 10.78
            dx, dy = (xs[i + 1] - xs[i]) * 3.96, (ts[i + 1] - ts[i]) * 10.78
            u = np.clip(((px - ax0) * dx + (py - ay0) * dy) / (dx * dx + dy * dy), 0, 1)
            d = np.minimum(d, np.hypot(px - ax0 - u * dx, py - ay0 - u * dy))
    return d


Zb += 6 * np.exp(-(seg_dist([([-9, -150], [a, b]) for a, b in zip(f_bright_in, f_bright_out)]
                            + [([9, 150], [a, b]) for a, b in zip(f_bright_in, f_bright_out)]) / 3.0) ** 2)
for x0, t0 in zip(f_blob_x, f_blob_t):
    Zb -= 18 * np.exp(-((X - x0) / 5.0) ** 2 - ((T - t0) / 0.45) ** 2)
Zb += (-60 - Zb) * np.exp(-(seg_dist(f_thick) / 8.0) ** 2)
Zb += (-60 - Zb) * np.exp(-(seg_dist(f_thin) / 4.0) ** 2)
Zb[T < np.interp(Ax, f_edge_x, f_edge_t)] = -60
Zb = np.clip(Zb, -60, 0)
Zf = np.maximum(Zb, np.interp(Ax / np.interp(T, f_wig_t, f_wig), core_x, core_val))
dens((2224, 2784, 3412, 3857), (3485, 2784, 3540, 3857), Zf)
label('x, a. u.', 2822, 3995, size=51)
label('t, fs', 2033, 3332, 90)
tag('(f)', 2382, 2905, 'w')

fig.savefig('out.png', dpi=100, facecolor='w')
